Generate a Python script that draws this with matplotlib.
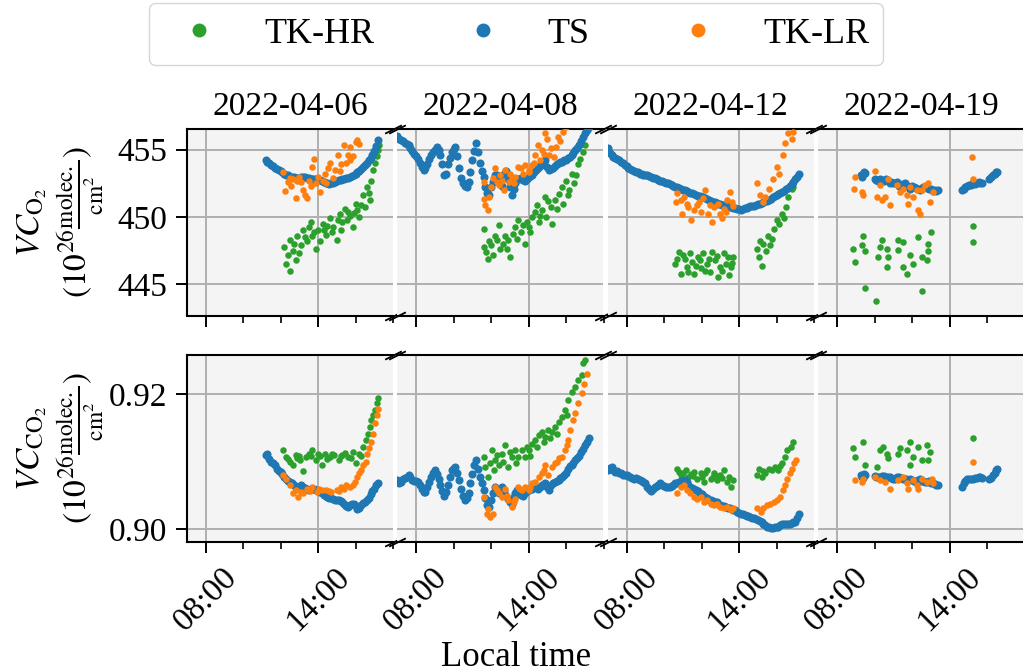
import numpy as np
import matplotlib
matplotlib.use("Agg")
import matplotlib.pyplot as plt
from matplotlib.lines import Line2D
from matplotlib.ticker import FixedLocator, MultipleLocator, FuncFormatter

plt.rcParams['font.family'] = ['Liberation Serif', 'DejaVu Serif']
plt.rcParams['mathtext.fontset'] = 'stix'
plt.rcParams['font.size'] = 24

dates = ["2022-04-06", "2022-04-08", "2022-04-12", "2022-04-19"]
names = ["TK-HR", "TS", "TK-LR"]
colors = ["#2ca02c", "#1f77b4", "#ff7f0e"]

# ---- TS: measurement times (local hour) and values, XCO2 (top) / XCO (bottom)
ts06_t = [11.2,11.3,11.4,11.5,11.6,11.7,11.8,11.9,12.0,12.1,12.2,12.3,12.4,12.5,12.6,12.7,12.8,12.9,13.0,13.1,13.2,13.3,13.4,13.5,13.6,13.7,13.8,13.9,14.0,14.1,14.2,14.3,14.4,14.5,14.6,14.7,14.8,14.9,15.0,15.1,15.2,15.3,15.4,15.5,15.6,15.7,15.8,15.9,16.0,16.1,16.2,16.3,16.4,16.5,16.6,16.7,16.8,16.9,17.0,17.1,17.2]
ts06_xco2 = [454.25,454.1,454.0,453.85,453.75,453.65,453.55,453.45,453.4,453.3,453.2,453.15,453.1,453.0,452.95,452.95,452.9,452.9,452.92,452.95,452.98,452.95,452.9,452.88,452.85,452.8,452.8,452.8,452.78,452.72,452.7,452.6,452.55,452.5,452.48,452.52,452.55,452.6,452.68,452.72,452.75,452.8,452.85,452.88,452.9,453.0,453.05,453.12,453.2,453.3,453.4,453.55,453.7,453.85,454.0,454.2,454.4,454.6,454.9,455.25,455.7]
ts06_xco = [0.9110,0.9112,0.9104,0.9100,0.9098,0.9095,0.9090,0.9087,0.9085,0.9082,0.9078,0.9075,0.9072,0.9070,0.9068,0.9066,0.9063,0.9061,0.9063,0.9065,0.9063,0.9061,0.9059,0.9058,0.9059,0.9060,0.9059,0.9058,0.9057,0.9055,0.9053,0.9051,0.9049,0.9048,0.9046,0.9046,0.9045,0.9044,0.9043,0.9043,0.9042,0.9040,0.9038,0.9035,0.9033,0.9036,0.9038,0.9037,0.9034,0.9030,0.9032,0.9036,0.9039,0.9040,0.9043,0.9047,0.9052,0.9056,0.9060,0.9065,0.9069]

ts08_t = [7.0,7.1,7.2,7.3,7.4,7.5,7.6,7.7,7.8,7.9,8.0,8.1,8.2,8.3,8.4,8.5,8.6,8.7,8.8,8.9,9.0,9.1,9.2,9.3,9.4,9.5,9.6,9.7,9.8,9.9,10.0,10.1,10.2,10.3,10.4,10.5,10.6,10.7,10.8,10.9,11.0,11.1,11.2,11.3,11.4,11.5,11.6,11.7,11.8,11.9,12.0,12.1,12.2,12.3,12.4,12.5,12.6,12.7,12.8,12.9,13.0,13.1,13.2,13.3,13.4,13.5,13.6,13.7,13.8,13.9,14.0,14.1,14.2,14.3,14.4,14.5,14.6,14.7,14.8,14.9,15.0,15.1,15.2,15.3,15.4,15.5,15.6,15.7,15.8,15.9,16.0,16.1,16.2,16.3,16.4,16.5,16.6,16.7,16.8,16.9,17.0,17.1,17.2]
ts08_xco2 = [456.0,455.8,455.7,455.6,455.5,455.4,455.3,455.15,454.9,454.7,454.5,454.3,454.0,453.7,453.5,453.6,453.95,454.3,454.6,454.8,455.0,455.2,455.0,454.6,453.9,453.1,453.2,453.9,454.4,454.8,455.05,455.2,454.5,453.6,452.9,452.55,452.3,452.2,452.6,453.3,454.2,454.9,455.45,454.8,454.0,453.4,453.0,452.2,451.75,451.6,452.2,452.6,453.1,453.1,452.9,452.5,452.3,453.2,453.4,452.8,452.2,451.6,452.1,452.5,452.8,452.85,452.9,452.75,452.7,452.85,453.0,453.05,453.1,453.3,453.5,453.65,453.75,453.95,454.1,454.2,453.7,453.45,453.55,453.65,453.8,453.95,454.0,454.05,454.1,454.2,454.25,454.35,454.45,454.6,454.75,454.95,455.15,455.35,455.6,455.95,456.2,456.44,456.7]
ts08_xco = [0.9073,0.9068,0.9070,0.9074,0.9076,0.9078,0.9080,0.9077,0.9073,0.9072,0.9071,0.9070,0.9065,0.9060,0.9055,0.9055,0.9063,0.9070,0.9078,0.9083,0.9088,0.9082,0.9075,0.9065,0.9056,0.9050,0.9055,0.9066,0.9078,0.9088,0.9091,0.9093,0.9083,0.9073,0.9060,0.9050,0.9043,0.9047,0.9053,0.9068,0.9082,0.9095,0.9102,0.9090,0.9078,0.9068,0.9058,0.9046,0.9036,0.9033,0.9043,0.9053,0.9063,0.9058,0.9053,0.9058,0.9063,0.9056,0.9050,0.9045,0.9040,0.9038,0.9048,0.9054,0.9058,0.9056,0.9051,0.9050,0.9053,0.9056,0.9058,0.9059,0.9060,0.9062,0.9062,0.9060,0.9062,0.9065,0.9067,0.9068,0.9062,0.9058,0.9065,0.9068,0.9070,0.9072,0.9073,0.9076,0.9078,0.9080,0.9084,0.9090,0.9094,0.9095,0.9098,0.9102,0.9105,0.9108,0.9114,0.9119,0.9125,0.9130,0.9135]

ts12_t = [7.0,7.1,7.2,7.3,7.4,7.5,7.6,7.7,7.8,7.9,8.0,8.1,8.2,8.3,8.4,8.5,8.6,8.7,8.8,8.9,9.0,9.1,9.2,9.3,9.4,9.5,9.6,9.7,9.8,9.9,10.0,10.1,10.2,10.3,10.4,10.5,10.6,10.7,10.8,10.9,11.0,11.1,11.2,11.3,11.4,11.5,11.6,11.7,11.8,11.9,12.0,12.1,12.2,12.3,12.4,12.5,12.6,12.7,12.8,12.9,13.0,13.1,13.2,13.3,13.4,13.5,13.6,13.7,13.8,13.9,14.0,14.1,14.2,14.3,14.4,14.5,14.6,14.7,14.8,14.9,15.0,15.1,15.2,15.3,15.4,15.5,15.6,15.7,15.8,15.9,16.0,16.1,16.2,16.3,16.4,16.5,16.6,16.7,16.8,16.9,17.0,17.1,17.2]
ts12_xco2 = [455.1,454.75,454.6,454.48,454.4,454.3,454.2,454.1,453.98,453.85,453.75,453.65,453.58,453.5,453.42,453.35,453.3,453.22,453.2,453.15,453.12,453.1,453.02,452.97,452.92,452.88,452.82,452.75,452.7,452.65,452.6,452.55,452.5,452.43,452.37,452.3,452.25,452.2,452.15,452.1,452.02,451.97,451.92,451.87,451.8,451.75,451.7,451.65,451.58,451.52,451.48,451.45,451.4,451.35,451.28,451.2,451.13,451.1,451.05,451.0,450.95,450.9,450.86,450.82,450.8,450.77,450.73,450.7,450.66,450.62,450.58,450.55,450.6,450.65,450.7,450.73,450.78,450.82,450.85,450.9,450.95,451.0,451.03,451.1,451.15,451.2,451.28,451.37,451.45,451.53,451.62,451.72,451.8,451.88,451.95,452.05,452.15,452.3,452.45,452.6,452.8,452.97,453.2]
ts12_xco = [0.9088,0.9091,0.9093,0.9088,0.9085,0.9086,0.9084,0.9083,0.9081,0.9080,0.9081,0.9079,0.9078,0.9076,0.9075,0.9076,0.9074,0.9073,0.9072,0.9070,0.9068,0.9063,0.9059,0.9057,0.9059,0.9062,0.9064,0.9066,0.9068,0.9066,0.9064,0.9063,0.9062,0.9063,0.9064,0.9066,0.9068,0.9069,0.9070,0.9071,0.9072,0.9073,0.9070,0.9066,0.9063,0.9061,0.9059,0.9058,0.9056,0.9054,0.9052,0.9050,0.9048,0.9046,0.9044,0.9043,0.9042,0.9041,0.9040,0.9038,0.9036,0.9035,0.9034,0.9033,0.9032,0.9031,0.9030,0.9029,0.9028,0.9026,0.9024,0.9023,0.9022,0.9021,0.9020,0.9019,0.9018,0.9017,0.9016,0.9015,0.9013,0.9012,0.9010,0.9008,0.9006,0.9004,0.9003,0.9002,0.9002,0.9003,0.9003,0.9004,0.9006,0.9007,0.9008,0.9008,0.9008,0.9008,0.9009,0.9010,0.9011,0.9016,0.9023]

ts19_t = [9.3,9.35,9.4,9.45,9.5,10.0,10.1,10.2,10.3,10.4,10.5,10.6,10.7,10.8,10.9,11.0,11.1,11.2,11.3,11.4,11.5,11.6,11.7,11.8,11.9,12.0,12.1,12.2,12.3,12.4,12.5,12.6,12.7,12.8,12.9,13.0,13.1,13.2,13.3,13.4,14.65,14.75,14.85,14.95,15.05,15.15,15.25,15.35,15.45,15.55,15.65,15.75,16.1,16.2,16.3,16.4,16.5,16.55]
ts19_xco2 = [453.1,452.95,453.2,453.35,453.25,452.85,452.75,452.7,452.8,452.75,452.7,452.85,452.65,452.55,452.6,452.5,452.55,452.6,452.3,452.25,452.45,452.5,452.35,452.2,452.1,452.3,452.25,452.15,452.1,452.0,452.1,452.2,452.2,452.15,452.05,452.1,451.95,452.0,451.95,452.0,452.0,452.1,452.2,452.3,452.35,452.4,452.5,452.45,452.5,452.6,452.55,452.5,452.85,452.97,453.1,453.2,453.3,453.35]
ts19_xco = [0.9080,0.9077,0.9076,0.9082,0.9081,0.9079,0.9078,0.9077,0.9078,0.9079,0.9079,0.9078,0.9077,0.9078,0.9076,0.9075,0.9074,0.9077,0.9078,0.9076,0.9074,0.9075,0.9075,0.9073,0.9074,0.9073,0.9072,0.9070,0.9073,0.9074,0.9072,0.9071,0.9070,0.9070,0.9071,0.9069,0.9068,0.9067,0.9065,0.9066,0.9063,0.9068,0.9071,0.9074,0.9075,0.9075,0.9075,0.9076,0.9076,0.9077,0.9077,0.9076,0.9074,0.9076,0.9080,0.9084,0.9088,0.9089]

# ---- TK-HR / TK-LR: (local hour, value) pairs
hr06_xco2 = [(12.2,447.77),(12.3,446.5),(12.5,446.0),(12.5,448.3),(12.65,447.5),(12.8,446.8),(12.9,448.6),(13.1,447.9),(13.2,449.0),(13.4,448.2),(13.5,449.25),(13.7,448.6),(13.9,447.65),(14.0,449.0),(14.25,449.5),(14.4,448.7),(14.65,449.9),(14.8,449.25),(15.0,448.3),(15.05,449.75),(15.25,449.0),(15.45,450.6),(15.55,449.75),(15.7,450.1),(15.85,449.25),(16.0,451.0),(16.2,450.0),(16.4,451.6),(16.5,450.75),(16.6,452.2),(16.75,451.25),(16.85,452.7),(16.95,453.45),(17.05,454.0),(17.15,454.5),(17.2,454.95),(17.25,455.3),(13.0,447.3),(13.6,449.6),(14.1,448.2),(14.5,449.3),(15.3,449.6),(15.9,450.3),(16.3,450.9),(12.4,447.2),(12.7,448.0),(13.3,448.5),(13.8,448.9),(14.3,449.0),(14.75,448.9),(15.15,450.2),(15.6,450.4),(16.1,450.5),(16.7,451.8)]
hr06_xco = [(12.15,0.9117),(12.3,0.9107),(12.5,0.9100),(12.65,0.9095),(12.8,0.9110),(13.05,0.9102),(13.2,0.9087),(13.35,0.9107),(13.5,0.9112),(13.7,0.9117),(13.9,0.9102),(14.2,0.9095),(14.35,0.9112),(14.65,0.9107),(14.85,0.9110),(15.1,0.9102),(15.3,0.9110),(15.6,0.9107),(15.85,0.9115),(16.0,0.9098),(16.2,0.9112),(16.4,0.9122),(16.55,0.9132),(16.65,0.9142),(16.75,0.9152),(16.85,0.9162),(17.05,0.9177),(17.15,0.9187),(17.2,0.9194),(13.0,0.9108),(14.0,0.9112),(14.5,0.9104),(15.45,0.9113),(12.4,0.9104),(12.9,0.9106),(13.6,0.9108),(14.1,0.9109),(14.75,0.9112),(15.2,0.9108),(15.75,0.9106),(16.3,0.9108),(16.95,0.9170)]
lr06_xco2 = [(12.15,453.3),(12.25,451.9),(12.5,452.9),(12.55,452.3),(12.8,451.4),(12.9,452.7),(13.2,452.0),(13.3,451.6),(13.4,451.4),(13.5,452.7),(13.7,453.7),(13.8,454.3),(13.9,452.5),(14.1,451.85),(14.25,452.7),(14.45,452.5),(14.65,454.0),(14.8,452.9),(14.9,453.5),(15.05,454.6),(15.15,453.4),(15.4,455.3),(15.5,454.0),(15.7,455.2),(15.7,454.25),(15.85,454.5),(16.0,455.55),(16.1,455.7),(16.2,455.4),(12.4,452.6),(13.0,453.0),(14.35,453.2),(12.65,452.8),(13.1,452.6),(13.6,452.3),(14.0,453.0),(14.55,453.6),(15.25,453.9),(15.6,454.6)]
lr06_xco = [(12.15,0.9080),(12.3,0.9075),(12.5,0.9065),(12.65,0.9053),(12.95,0.9048),(13.2,0.9053),(13.4,0.9059),(13.7,0.9063),(13.93,0.9055),(14.2,0.9058),(14.45,0.9058),(14.7,0.9055),(15.0,0.9058),(15.25,0.9062),(15.5,0.9065),(15.7,0.9063),(15.95,0.9070),(16.1,0.9078),(16.2,0.9083),(16.4,0.9095),(16.55,0.9100),(16.6,0.9112),(16.8,0.9130),(16.95,0.9142),(17.05,0.9157),(17.15,0.9169),(17.2,0.9179),(12.8,0.9058),(13.1,0.9055),(13.55,0.9057),(14.05,0.9060),(14.6,0.9057),(15.1,0.9057),(15.4,0.9060),(15.85,0.9066),(16.3,0.9088),(16.7,0.9120)]

hr08_xco2 = [(11.6,449.1),(11.6,447.8),(11.75,447.4),(11.82,446.9),(12.0,447.9),(12.2,448.6),(12.3,448.3),(12.4,449.4),(12.5,447.65),(12.75,448.6),(12.9,448.3),(13.0,447.0),(13.15,448.75),(13.3,449.25),(13.46,449.75),(13.6,448.9),(13.8,448.0),(14.0,449.25),(14.2,450.0),(14.35,450.4),(14.55,449.6),(14.7,450.5),(14.9,451.5),(14.95,450.0),(15.2,450.75),(15.26,449.5),(15.4,451.25),(15.6,451.7),(15.8,452.2),(15.85,451.0),(16.0,452.7),(16.15,452.0),(16.3,453.2),(16.45,452.5),(16.65,453.96),(16.75,454.3),(16.9,454.8),(17.0,455.3),(12.1,447.2),(12.65,448.0),(13.7,449.4),(14.1,448.9),(14.45,450.9),(15.05,451.2),(11.9,448.2),(12.85,447.6),(13.4,448.4),(13.9,449.6),(14.6,450.1),(15.5,450.6),(16.1,451.6),(16.55,453.1)]
hr08_xco = [(11.6,0.9107),(11.7,0.9093),(11.84,0.9078),(11.95,0.9098),(12.04,0.9117),(12.2,0.9102),(12.4,0.9095),(12.57,0.9112),(12.75,0.9125),(12.93,0.9093),(13.1,0.9107),(13.28,0.9117),(13.46,0.9107),(13.64,0.9117),(13.8,0.9107),(14.0,0.9117),(14.2,0.9127),(14.35,0.9132),(14.55,0.9140),(14.7,0.9145),(14.9,0.9137),(15.06,0.9147),(15.26,0.9145),(15.4,0.9152),(15.6,0.9159),(15.77,0.9167),(15.95,0.9177),(16.13,0.9192),(16.3,0.9204),(16.5,0.9211),(16.66,0.9221),(16.84,0.9229),(16.9,0.9246),(17.0,0.9251),(12.3,0.9110),(13.0,0.9115),(13.9,0.9122),(14.8,0.9130),(12.15,0.9088),(12.65,0.9100),(13.35,0.9098),(14.1,0.9109),(14.45,0.9122),(15.15,0.9135),(15.5,0.9142),(16.05,0.9170)]
lr08_xco2 = [(11.6,452.6),(11.6,451.3),(11.7,450.9),(11.82,450.5),(11.9,451.5),(12.0,452.2),(12.2,453.6),(12.3,452.6),(12.45,452.35),(12.5,453.1),(12.7,451.98),(12.75,453.47),(12.95,452.6),(13.1,452.85),(13.2,452.5),(13.46,453.7),(13.6,453.6),(13.8,453.85),(14.05,453.47),(14.2,453.85),(14.35,454.6),(14.5,455.3),(14.6,454.2),(14.8,454.7),(14.9,456.2),(15.0,455.8),(15.2,455.1),(15.35,454.45),(15.45,455.2),(15.7,455.6),(15.85,456.3),(16.0,456.7),(13.0,453.2),(14.0,453.3),(12.1,452.9),(12.6,452.7),(13.3,453.0),(13.7,453.2),(14.3,454.0),(14.7,455.0),(15.1,454.6),(15.55,455.9)]
lr08_xco = [(11.6,0.9048),(11.77,0.9023),(11.95,0.9018),(12.1,0.9023),(12.2,0.9063),(12.4,0.9053),(12.57,0.9048),(12.75,0.9060),(12.93,0.9043),(13.1,0.9033),(13.28,0.9045),(13.46,0.9063),(13.64,0.9058),(13.8,0.9063),(14.0,0.9058),(14.2,0.9068),(14.35,0.9070),(14.55,0.9078),(14.7,0.9083),(14.9,0.9095),(15.06,0.9080),(15.26,0.9093),(15.4,0.9098),(15.6,0.9105),(15.77,0.9107),(15.95,0.9117),(16.13,0.9132),(16.2,0.9147),(16.4,0.9162),(16.5,0.9172),(16.66,0.9187),(16.84,0.9202),(16.97,0.9216),(17.1,0.9231),(11.85,0.9030),(12.3,0.9058),(12.85,0.9050),(13.2,0.9040),(13.55,0.9060),(14.1,0.9062),(14.8,0.9088),(15.5,0.9100),(16.05,0.9125)]

hr12_xco2 = [(10.8,447.4),(10.6,446.5),(10.9,445.8),(11.1,446.9),(11.25,446.3),(11.4,447.3),(11.5,446.65),(11.6,445.8),(11.8,447.0),(11.95,446.2),(12.1,447.3),(12.3,446.5),(12.45,445.9),(12.55,447.4),(12.7,446.8),(12.9,445.55),(13.0,446.3),(13.2,447.3),(13.3,446.5),(13.45,445.7),(13.55,446.3),(13.7,447.0),(11.0,447.2),(11.7,446.4),(12.2,446.0),(12.8,447.1),(13.1,446.0),(13.6,446.6),(10.7,446.9),(11.3,445.9),(11.9,446.8),(12.4,446.9),(13.4,447.0),(14.95,447.65),(15.05,447.0),(15.2,446.4),(15.3,448.0),(15.45,447.5),(15.55,448.6),(15.75,448.4),(15.85,449.1),(16.0,449.75),(16.15,449.5),(16.3,450.25),(16.4,449.9),(16.5,450.75),(16.6,451.5),(16.8,452.1),(16.9,452.2),(15.1,448.2),(15.65,447.9)]
hr12_xco = [(10.7,0.9090),(10.88,0.9080),(11.15,0.9088),(11.3,0.9078),(11.6,0.9085),(11.77,0.9075),(11.95,0.9083),(12.13,0.9070),(12.3,0.9088),(12.48,0.9075),(12.66,0.9083),(12.84,0.9073),(13.0,0.9080),(13.2,0.9088),(13.37,0.9070),(13.55,0.9063),(13.7,0.9073),(11.0,0.9083),(11.45,0.9082),(12.0,0.9078),(12.6,0.9078),(13.1,0.9076),(10.8,0.9085),(11.55,0.9079),(12.2,0.9084),(12.9,0.9079),(13.45,0.9077),(14.95,0.9080),(15.05,0.9090),(15.2,0.9078),(15.4,0.9083),(15.6,0.9090),(15.75,0.9088),(15.9,0.9093),(16.1,0.9088),(16.3,0.9098),(16.45,0.9107),(16.55,0.9117),(16.75,0.9122),(16.9,0.9130),(15.3,0.9086),(16.2,0.9094)]
lr12_xco2 = [(10.7,451.8),(10.65,451.1),(10.88,451.25),(10.95,450.25),(11.05,451.5),(11.3,450.75),(11.45,449.75),(11.6,450.5),(11.75,450.9),(11.95,450.4),(12.1,451.4),(12.2,452.0),(12.35,450.25),(12.55,449.6),(12.65,450.75),(12.9,451.0),(13.0,450.25),(13.1,449.9),(13.2,450.6),(13.37,451.25),(13.5,451.85),(13.6,451.1),(13.7,450.8),(11.2,451.0),(11.85,451.1),(12.45,450.9),(13.3,450.4),(14.95,452.5),(15.1,451.6),(15.3,451.1),(15.4,451.5),(15.6,452.1),(15.8,452.85),(16.0,453.7),(16.15,453.2),(16.35,454.6),(16.45,455.45),(16.6,456.2),(16.85,455.8),(16.9,456.3)]
lr12_xco = [(10.7,0.9053),(10.88,0.9063),(11.05,0.9065),(11.2,0.9058),(11.4,0.9053),(11.6,0.9048),(11.77,0.9045),(11.95,0.9048),(12.13,0.9041),(12.3,0.9043),(12.48,0.9038),(12.66,0.9036),(12.84,0.9038),(13.0,0.9033),(13.2,0.9031),(13.37,0.9033),(13.55,0.9028),(13.7,0.9031),(14.95,0.9031),(15.15,0.9026),(15.3,0.9031),(15.48,0.9036),(15.66,0.9038),(15.84,0.9041),(16.0,0.9043),(16.2,0.9048),(16.33,0.9058),(16.45,0.9065),(16.55,0.9075),(16.7,0.9083),(16.84,0.9090),(16.95,0.9098),(17.05,0.9102)]

hr19_xco2 = [(8.87,447.65),(8.96,446.65),(9.41,448.6),(9.32,447.9),(9.5,447.5),(10.38,448.3),(10.3,447.8),(10.2,447.0),(10.65,447.65),(10.74,447.0),(10.65,446.3),(11.27,448.3),(11.54,448.15),(11.27,447.55),(11.9,447.15),(11.54,446.3),(11.72,445.8),(12.07,446.55),(12.34,448.5),(12.52,447.0),(12.87,448.0),(12.87,447.5),(13.0,448.9),(12.78,446.8),(9.5,444.75),(10.07,443.8),(12.52,444.55),(15.27,449.3),(15.23,448.15)]
hr19_xco = [(8.96,0.9107),(8.87,0.9121),(9.41,0.9130),(9.5,0.9095),(10.12,0.9093),(10.3,0.9117),(10.47,0.9122),(10.65,0.9112),(10.74,0.9105),(11.27,0.9112),(11.36,0.9120),(11.72,0.9117),(11.9,0.9130),(11.9,0.9095),(12.07,0.9107),(12.34,0.9122),(12.52,0.9102),(12.78,0.9125),(12.96,0.9115),(12.87,0.9102),(15.27,0.9135)]
lr19_xco2 = [(8.96,453.0),(8.91,452.1),(9.32,451.85),(9.41,451.6),(10.03,453.4),(10.12,451.5),(10.38,451.25),(10.56,451.5),(10.3,452.35),(10.74,452.85),(10.83,450.9),(11.18,452.35),(11.36,451.85),(11.54,452.1),(11.72,451.6),(11.8,451.0),(11.9,452.2),(12.07,451.5),(12.25,452.0),(12.34,450.5),(12.43,450.25),(12.52,452.0),(12.7,452.35),(12.87,452.5),(12.96,451.1),(13.14,451.85),(15.18,454.45),(15.27,452.85)]
lr19_xco = [(8.96,0.9073),(9.32,0.9070),(9.41,0.9075),(10.03,0.9078),(10.3,0.9073),(10.56,0.9070),(10.83,0.9060),(11.27,0.9073),(11.54,0.9078),(11.72,0.9068),(11.8,0.9060),(12.07,0.9073),(12.25,0.9065),(12.34,0.9060),(12.52,0.9075),(12.78,0.9070),(13.05,0.9075),(13.14,0.9068),(15.27,0.9099)]


def pairs(p):
    a = np.array(p)
    return a[:, 0], a[:, 1]


# rows: XCO2 (top), XCO (bottom); columns: days; series order: TK-HR, TS, TK-LR
top_data = [[pairs(hr06_xco2), (ts06_t, ts06_xco2), pairs(lr06_xco2)],
            [pairs(hr08_xco2), (ts08_t, ts08_xco2), pairs(lr08_xco2)],
            [pairs(hr12_xco2), (ts12_t, ts12_xco2), pairs(lr12_xco2)],
            [pairs(hr19_xco2), (ts19_t, ts19_xco2), pairs(lr19_xco2)]]
bot_data = [[pairs(hr06_xco), (ts06_t, ts06_xco), pairs(lr06_xco)],
            [pairs(hr08_xco), (ts08_t, ts08_xco), pairs(lr08_xco)],
            [pairs(hr12_xco), (ts12_t, ts12_xco), pairs(lr12_xco)],
            [pairs(hr19_xco), (ts19_t, ts19_xco), pairs(lr19_xco)]]
sizes = [22, 34, 22]   # TS is a dense band, drawn a bit bigger

ylims = [(442.7, 456.5), (0.8981, 0.9259)]
yticks = [[445, 450, 455], [0.90, 0.92]]
yfmt = ["{:.0f}", "{:.2f}"]
ylabels = ["$VC_{\\mathrm{O_2}}$\n$(10^{26}\\frac{\\mathrm{molec.}}{\\mathrm{cm}^2})$",
           "$VC_{\\mathrm{CO_2}}$\n$(10^{26}\\frac{\\mathrm{molec.}}{\\mathrm{cm}^2})$"]

W, H = 1023, 672
fig = plt.figure(figsize=(W / 100, H / 100), dpi=100)

rows = [(129.3, 315.5), (354.7, 542.0)]
brk = dict(marker=[(-1, -0.5), (1, 0.5)], markersize=12, linestyle="none",
           color="k", mec="k", mew=1.3, clip_on=False, zorder=10)
for r, (ytop, ybot) in enumerate(rows):
    data = top_data if r == 0 else bot_data
    for c in range(4):
        left = 186.75 + 210.5 * c
        ax = fig.add_axes([left / W, 1 - ybot / H, 206.25 / W, (ybot - ytop) / H])
        ax.set_facecolor("#f4f4f4")
        ax.set_axisbelow(True)
        ax.grid(True, color="#b0b0b0", lw=1.4)
        for k in range(3):
            t, v = data[c][k]
            ax.scatter(t, v, s=sizes[k], color=colors[k], lw=0, zorder=3)
        ax.set_xlim(7, 18)
        ax.set_ylim(*ylims[r])
        ax.xaxis.set_major_locator(FixedLocator([8, 14]))
        ax.xaxis.set_minor_locator(MultipleLocator(2))
        ax.xaxis.set_major_formatter(FuncFormatter(lambda v, p: "%02d:00" % int(round(v))))
        ax.yaxis.set_major_locator(FixedLocator(yticks[r]))
        ax.yaxis.set_major_formatter(FuncFormatter(lambda v, p, f=yfmt[r]: f.format(v)))
        for s in ax.spines.values():
            s.set_linewidth(1.5)
        ax.tick_params(which="major", length=8, width=1.4, pad=6)
        ax.tick_params(which="minor", length=5, width=1.2)
        ax.tick_params(axis="x", top=False)
        if r == 0:
            ax.tick_params(axis="x", labelbottom=False)
            ax.set_title(dates[c], pad=10, fontsize=24)
        else:
            for lab in ax.get_xticklabels():
                lab.set_rotation(45)
        if c > 0:
            ax.spines["left"].set_visible(False)
            ax.tick_params(axis="y", left=False, labelleft=False)
            ax.plot([0, 0], [0, 1], transform=ax.transAxes, **brk)
        else:
            ax.set_ylabel(ylabels[r], fontsize=24)
            ax.yaxis.set_label_coords(-0.39, 0.5)
        if c < 3:
            ax.spines["right"].set_visible(False)
            ax.plot([1, 1], [0, 1], transform=ax.transAxes, **brk)

fig.text(516 / W, 1 - 666 / H, "Local time", ha="center", va="baseline", fontsize=25)
handles = [Line2D([], [], ls="none", marker="o", ms=10, mew=0, color=col) for col in colors]
fig.legend(handles, names, loc="upper center", bbox_to_anchor=(516 / W, 1 - 3 / H),
           borderaxespad=0, ncol=3, fontsize=26)

fig.savefig("out.png", dpi=100)
